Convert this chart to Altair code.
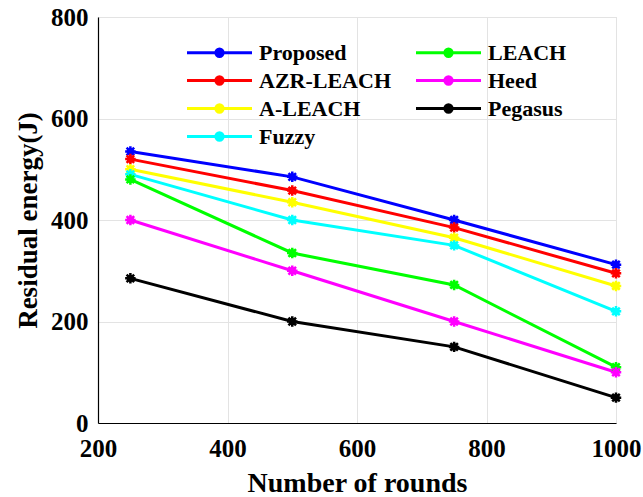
import altair as alt
import pandas as pd

rounds = [250, 500, 750, 1000]
proposed = [535, 485, 400, 312]
azr_leach = [520, 458, 385, 295]
a_leach = [500, 435, 365, 270]
fuzzy = [490, 400, 350, 220]
leach = [480, 335, 272, 110]
heed = [400, 300, 200, 100]
pegasus = [285, 200, 150, 50]

series = {
    "Proposed": proposed,
    "AZR-LEACH": azr_leach,
    "A-LEACH": a_leach,
    "Fuzzy": fuzzy,
    "LEACH": leach,
    "Heed": heed,
    "Pegasus": pegasus,
}
colors = {
    "Proposed": "#0000ff",
    "AZR-LEACH": "#ff0000",
    "A-LEACH": "#ffff00",
    "Fuzzy": "#00ffff",
    "LEACH": "#00ff00",
    "Heed": "#ff00ff",
    "Pegasus": "#000000",
}
legend_order = ["Proposed", "AZR-LEACH", "A-LEACH", "Fuzzy", "LEACH", "Heed", "Pegasus"]
draw_order = ["Pegasus", "Heed", "LEACH", "Fuzzy", "A-LEACH", "AZR-LEACH", "Proposed"]

rows = []
for name, vals in series.items():
    for r, v in zip(rounds, vals):
        rows.append({"rounds": r, "energy": v, "method": name, "order": draw_order.index(name)})
df = pd.DataFrame(rows)

FONT = "Liberation Serif"
# line of length 5 units (65 px at size 676) with an asterisk-dot in the middle
sym_path = (
    "M-2.5,0H2.5M0,-0.3V0.3M-0.22,-0.22L0.22,0.22M-0.22,0.22L0.22,-0.22"
    "M-0.28,0A0.28,0.28,0,1,1,0.28,0A0.28,0.28,0,1,1,-0.28,0Z"
)
asterisk = "M-1,0H1M0,-1V1M-0.72,-0.72L0.72,0.72M-0.72,0.72L0.72,-0.72"

color_scale = alt.Scale(domain=legend_order, range=[colors[k] for k in legend_order])
color = alt.Color(
    "method:N",
    scale=color_scale,
    legend=alt.Legend(
        title=None,
        orient="none",
        legendX=107,
        legendY=21,
        columns=2,
        columnPadding=18,
        rowPadding=2,
        padding=0,
        symbolType=sym_path,
        symbolSize=676,
        symbolStrokeWidth=3,
        labelFont=FONT,
        labelFontSize=22,
        labelFontWeight="bold",
        labelColor="#000000",
        labelOffset=25,
    ),
)

x = alt.X(
    "rounds:Q",
    scale=alt.Scale(domain=[200, 1000], nice=False),
    axis=alt.Axis(
        values=[200, 400, 600, 800, 1000],
        format="d",
        title="Number of rounds",
        titleFont=FONT, titleFontSize=28, titleFontWeight="bold", titleColor="#000",
        titleY=60, titleBaseline="middle",
        labelFont=FONT, labelFontSize=25, labelFontWeight="bold", labelColor="#000",
        labelPadding=13, ticks=False, labelFlush=False,
        domainColor="#000", domainWidth=1.2,
        gridColor="#e3e3e3",
    ),
)
y = alt.Y(
    "energy:Q",
    scale=alt.Scale(domain=[0, 800], nice=False),
    axis=alt.Axis(
        values=[0, 200, 400, 600, 800],
        title="Residual energy(J)",
        titleFont=FONT, titleFontSize=27, titleFontWeight="bold", titleColor="#000",
        titleX=-70, titleY=203, titleAngle=-90, titleAlign="center", titleBaseline="middle",
        labelFont=FONT, labelFontSize=25, labelFontWeight="bold", labelColor="#000",
        labelPadding=10, ticks=False,
        domainColor="#000", domainWidth=1.2,
        gridColor="#e3e3e3",
    ),
)

base = alt.Chart(df)
lines = base.mark_line(strokeWidth=3).encode(
    x=x, y=y, color=color, detail="method:N", order="order:Q"
)
dots = base.mark_point(filled=True, size=55, shape="circle", opacity=1).encode(
    x="rounds:Q", y="energy:Q",
    color=alt.Color("method:N", scale=color_scale, legend=None),
)
stars = base.mark_point(filled=False, size=110, shape=asterisk, strokeWidth=2.5, opacity=1).encode(
    x="rounds:Q", y="energy:Q",
    color=alt.Color("method:N", scale=color_scale, legend=None),
)

chart = (
    alt.layer(lines, dots, stars)
    .properties(
        width=518,
        height=406,
        autosize=alt.AutoSizeParams(type="none"),
        padding={"left": 98, "top": 17, "right": 27, "bottom": 74},
    )
    .configure_view(stroke="#dcdcdc", strokeWidth=1)
    .configure(background="white")
)

chart.save("out.html", embed_options={"renderer": "svg", "actions": False})
